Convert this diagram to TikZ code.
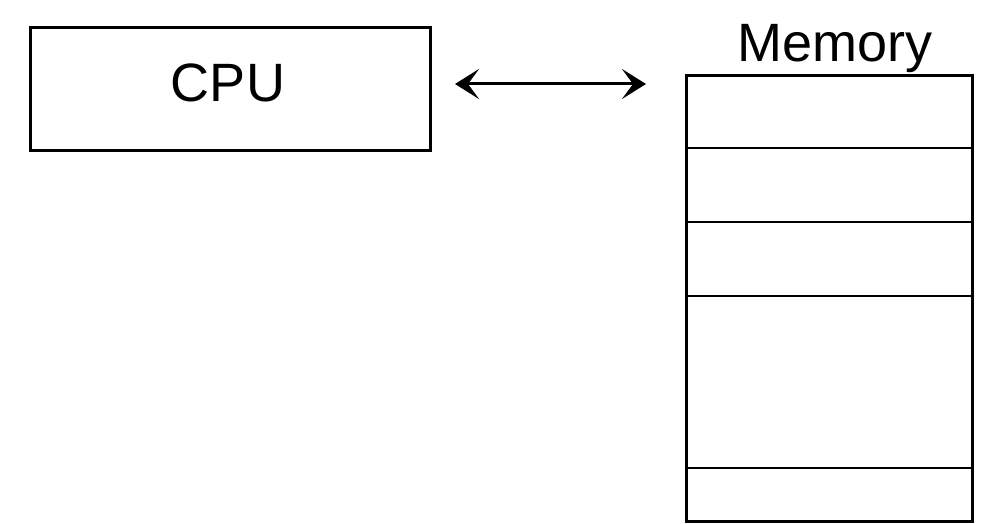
\documentclass[tikz,border=0pt]{standalone}
\usepackage{fontspec}
\setmainfont{Liberation Sans}
\usetikzlibrary{arrows.meta}
\begin{document}
\begin{tikzpicture}[x=1pt,y=-1pt,
  box/.style={draw,line width=3pt,inner sep=0pt},
  lbl/.style={font=\fontsize{54}{60}\selectfont,inner sep=0pt},
  divider/.style={line width=2.6pt},
  link/.style={line width=3pt,{Stealth[length=24pt,width=30pt,inset=11pt]}-{Stealth[length=24pt,width=30pt,inset=11pt]}}]
\useasboundingbox (0,0) rectangle (987,524);
\node[box,minimum width=400pt,minimum height=122pt] (cpu) at (230,89) {};
\node[lbl] (cputxt) at (228,83) {CPU};
\node[box,minimum width=286pt,minimum height=445pt] (mem) at (829,298.5) {};
\node[lbl,anchor=base] (memtxt) at (835,62) {Memory};
\coordinate (l1) at (686,148);
\coordinate (l2) at (686,222);
\coordinate (l3) at (686,296);
\coordinate (l4) at (686,468);
\draw[divider] (l1) -- (l1 -| mem.east);
\draw[divider] (l2) -- (l2 -| mem.east);
\draw[divider] (l3) -- (l3 -| mem.east);
\draw[divider] (l4) -- (l4 -| mem.east);
\coordinate (a1) at (455,84);
\coordinate (a2) at (646,84);
\draw[link] (a1) -- (a2);
\end{tikzpicture}
\end{document}
